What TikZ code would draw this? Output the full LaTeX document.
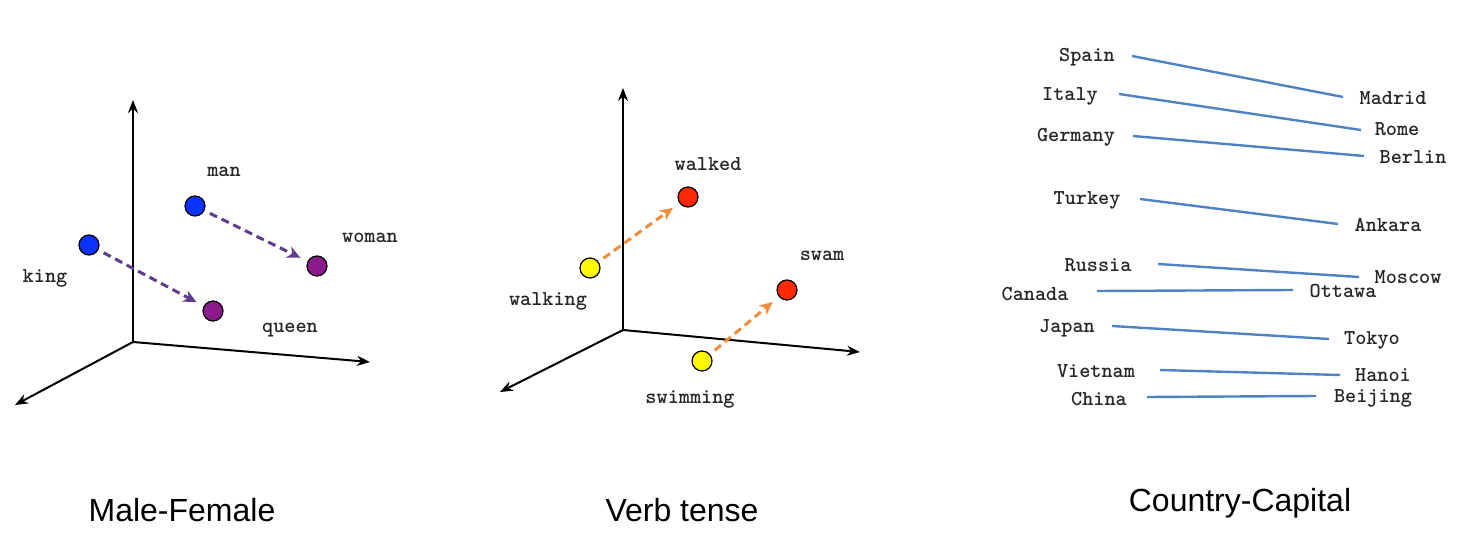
\documentclass[tikz,border=0pt]{standalone}
\usepackage{fontspec}
\setmainfont{Liberation Sans}
\usetikzlibrary{arrows.meta}
\definecolor{kblue}{RGB}{10,50,255}
\definecolor{kpurple}{RGB}{140,26,140}
\definecolor{arrpurple}{RGB}{95,60,140}
\definecolor{kred}{RGB}{255,40,0}
\definecolor{kyellow}{RGB}{255,250,0}
\definecolor{korange}{RGB}{240,140,60}
\definecolor{lineblue}{RGB}{80,130,195}
\begin{document}
\begin{tikzpicture}[x=0.5pt,y=-0.5pt,
  axis/.style={line width=1pt,-{Stealth[length=6.5pt,width=5pt]}},
  dot/.style={circle,draw=black,line width=0.6pt,minimum size=10pt,inner sep=0pt},
  word/.style={font=\ttfamily\bfseries\fontsize{10.6}{11}\selectfont,inner sep=0pt,text=black!85},
  title/.style={font=\fontsize{16}{18}\selectfont,inner sep=0pt},
  vec/.style={line width=1.5pt,dash pattern=on 4pt off 2.5pt,-{Stealth[length=6.5pt,width=6pt,inset=2pt]},shorten <=3pt,shorten >=4pt},
  capline/.style={lineblue,line width=1.2pt}]
\useasboundingbox (0,0) rectangle (1460,550);
% ---- Panel 1
\coordinate (o1) at (133,342);
\coordinate (u1) at (133,100);
\coordinate (r1) at (370,362);
\coordinate (l1) at (15,405);
\draw[axis] (o1) -- (u1);
\draw[axis] (o1) -- (r1);
\draw[axis] (o1) -- (l1);
\node[dot,fill=kblue] (king) at (89,245) {};
\node[dot,fill=kblue] (man) at (195,206) {};
\node[dot,fill=kpurple] (woman) at (317,266) {};
\node[dot,fill=kpurple] (queen) at (213,311) {};
\draw[vec,arrpurple] (king) -- (queen);
\draw[vec,arrpurple] (man) -- (woman);
\node[word] (kingl) at (45,278) {king};
\node[word] (manl) at (224,172) {man};
\node[word] (womanl) at (370,238) {woman};
\node[word] (queenl) at (290,330) {queen};
% ---- Panel 2
\coordinate (o2) at (623,330);
\coordinate (u2) at (623,88);
\coordinate (r2) at (860,352);
\coordinate (l2) at (500,392);
\draw[axis] (o2) -- (u2);
\draw[axis] (o2) -- (r2);
\draw[axis] (o2) -- (l2);
\node[dot,fill=kyellow] (walking) at (590,268) {};
\node[dot,fill=kred] (walked) at (688,197) {};
\node[dot,fill=kred] (swam) at (787,290) {};
\node[dot,fill=kyellow] (swimming) at (702,361) {};
\draw[vec,korange] (walking) -- (walked);
\draw[vec,korange] (swimming) -- (swam);
\node[word] (walkedl) at (708,164) {walked};
\node[word] (walkingl) at (548,301) {walking};
\node[word] (swaml) at (822,256) {swam};
\node[word] (swimmingl) at (690,399) {swimming};
% ---- Panel 3
\foreach \n/\cx/\cy/\ax/\ay/\bx/\by/\kx/\ky/\k in {
  Spain/1087/57/1132/56/1343/97/1393/98/Madrid,
  Italy/1070/96/1119/94/1361/130/1397/129/Rome,
  Germany/1076/137/1133/136/1364/156/1413/157/Berlin,
  Turkey/1087/200/1140/199/1338/224/1388/225/Ankara,
  Russia/1098/265/1158/264/1359/277/1408/277/Moscow,
  Canada/1035/294/1097/291/1293/290/1343/291/Ottawa,
  Japan/1067/328/1112/326/1329/339/1372/340/Tokyo,
  Vietnam/1096/371/1160/370/1340/375/1383/375/Hanoi,
  China/1099/399/1147/397/1316/396/1373/398/Beijing}{
  \node[word] (c\n) at (\cx,\cy) {\n};
  \node[word] (k\k) at (\kx,\ky) {\k};
  \coordinate (s\n) at (\ax,\ay);
  \coordinate (e\n) at (\bx,\by);
  \draw[capline] (s\n) -- (e\n);
}
% ---- Titles
\node[title] (t1) at (182,510) {Male-Female};
\node[title] (t2) at (682,510) {Verb tense};
\node[title] (t3) at (1240,503) {Country-Capital};
\end{tikzpicture}
\end{document}
